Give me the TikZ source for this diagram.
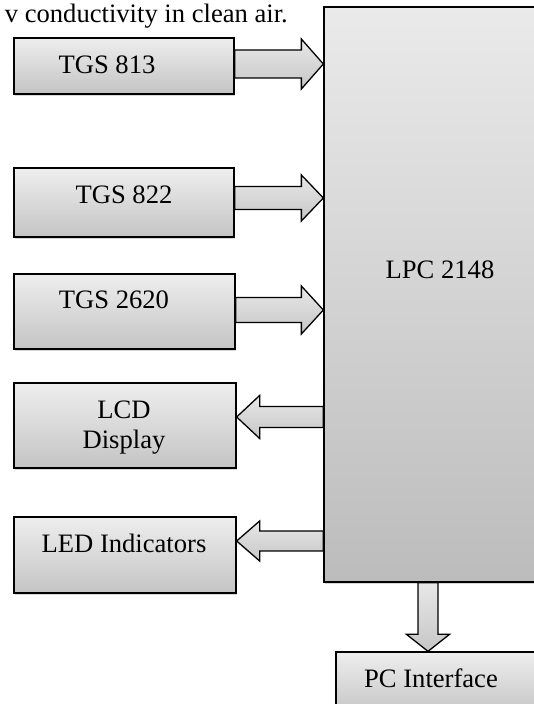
\documentclass[tikz,border=0pt]{standalone}
\usepackage{fontspec}
\setmainfont{Liberation Serif}
\usetikzlibrary{calc,shadows}
\definecolor{boxtop}{HTML}{EEEEEE}
\definecolor{boxbot}{HTML}{C4C4C4}
\definecolor{lpctop}{HTML}{EAEAEA}
\definecolor{lpcbot}{HTML}{BCBCBC}
\definecolor{arrtop}{HTML}{E8E8E8}
\definecolor{arrbot}{HTML}{C6C6C6}
\tikzset{
  box/.style={draw=black, line width=1.3pt, top color=boxtop, bottom color=boxbot,
    inner sep=0pt, drop shadow={shadow xshift=1.2pt, shadow yshift=-2pt, opacity=0.3}},
  lpcbox/.style={draw=black, line width=1.3pt, top color=lpctop, bottom color=lpcbot,
    inner sep=0pt, drop shadow={shadow xshift=1.2pt, shadow yshift=-2pt, opacity=0.3}},
  lbl/.style={font=\fontsize{26.6}{30}\selectfont, inner sep=0pt, align=center},
  blockarrow/.style={draw=black, line width=1.3pt, top color=arrtop, bottom color=arrbot, line join=miter}
}
\newcommand\inarrow[5]{\path[blockarrow] let \p1=(#1.east), \p2=(#2.west) in
  (\x1,{(#3-#4)*1pt}) -- ({\x2-22pt},{(#3-#4)*1pt}) -- ({\x2-22pt},{(#3-#5)*1pt})
  -- (\x2,{#3*1pt}) -- ({\x2-22pt},{(#3+#5)*1pt}) -- ({\x2-22pt},{(#3+#4)*1pt})
  -- (\x1,{(#3+#4)*1pt}) -- cycle;}
\newcommand\outarrow[5]{\path[blockarrow] let \p1=(#1.west), \p2=(#2.east) in
  (\x1,{(#3-#4)*1pt}) -- ({\x2+23pt},{(#3-#4)*1pt}) -- ({\x2+23pt},{(#3-#5)*1pt})
  -- (\x2,{#3*1pt}) -- ({\x2+23pt},{(#3+#5)*1pt}) -- ({\x2+23pt},{(#3+#4)*1pt})
  -- (\x1,{(#3+#4)*1pt}) -- cycle;}
\newcommand\downarrowblock[5]{\path[blockarrow] let \p1=(#1.south), \p2=(#2.north) in
  ({(#3-#4)*1pt},\y1) -- ({(#3-#4)*1pt},{\y2+17pt}) -- ({(#3-#5)*1pt},{\y2+17pt})
  -- ({#3*1pt},\y2) -- ({(#3+#5)*1pt},{\y2+17pt}) -- ({(#3+#4)*1pt},{\y2+17pt})
  -- ({(#3+#4)*1pt},\y1) -- cycle;}
\begin{document}
\begin{tikzpicture}[x=1pt,y=1pt]
\useasboundingbox (0,0) rectangle (534,704);
\clip (0,0) rectangle (534,704);
\fill[white] (0,0) rectangle (534,704);
% top text (continuation of the page text)
\node[lbl, anchor=base east] (toptext) at (288,681) {v conductivity in clean air.};
% main controller
\node[lpcbox, minimum width=221pt, minimum height=575pt] (lpc) at (434.5,409.5) {};
\node[lbl] (lpclbl) at (440,434) {LPC 2148};
% input boxes
\node[box, minimum width=220pt, minimum height=56pt] (t813) at (124,638) {};
\node[lbl] (t813lbl) at (107,639) {TGS 813};
\node[box, minimum width=220pt, minimum height=69pt] (t822) at (124,501.5) {};
\node[lbl] (t822lbl) at (124,509) {TGS 822};
\node[box, minimum width=221pt, minimum height=75pt] (t2620) at (124.5,392.5) {};
\node[lbl] (t2620lbl) at (114,404) {TGS 2620};
% output boxes
\node[box, minimum width=222pt, minimum height=85pt] (lcd) at (125,278.5) {};
\node[lbl] (lcdlbl) at (124,276) {LCD\\Display};
\node[box, minimum width=222pt, minimum height=76pt] (led) at (125,149) {};
\node[lbl] (ledlbl) at (124,161) {LED Indicators};
\node[box, minimum width=210pt, minimum height=64pt] (pc) at (441,20) {};
\node[lbl] (pclbl) at (431,26) {PC Interface};
% block arrows
\inarrow{t813}{lpc}{640}{14}{25}
\inarrow{t822}{lpc}{506}{11.5}{23}
\inarrow{t2620}{lpc}{394}{12.5}{24}
\outarrow{lpc}{lcd}{287}{10.5}{21.5}
\outarrow{lpc}{led}{163}{10}{20}
\downarrowblock{lpc}{pc}{428}{10}{21.5}
\end{tikzpicture}
\end{document}
